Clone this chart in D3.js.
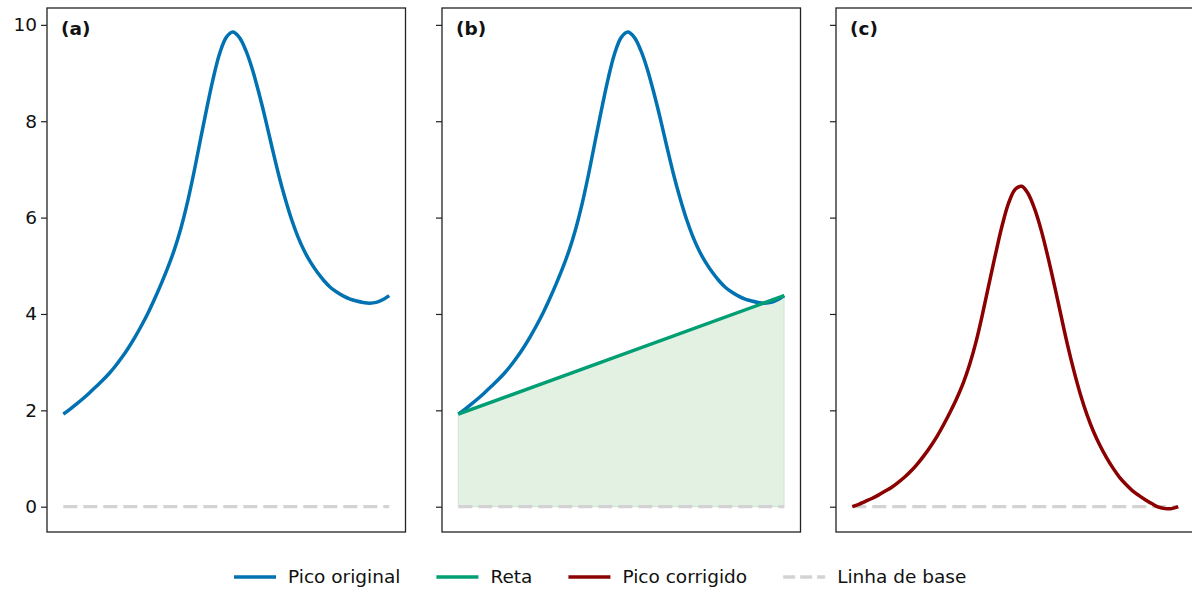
<!DOCTYPE html>
<html>
<head>
<meta charset="utf-8">
<script src="https://cdn.jsdelivr.net/npm/d3@7"></script>
<style>
  html, body { margin: 0; padding: 0; background: #fff; }
  svg { display: block; font-family: "DejaVu Sans", sans-serif; }
</style>
</head>
<body>
<svg id="chart" width="1192" height="589"></svg>
<script>
// Sample positions along the spectrum (arbitrary units)
const xPos = [0, 2, 4, 6, 8, 10, 12, 14, 16, 18, 20, 22, 24, 26, 28, 30, 32, 34, 36, 38, 40, 42, 44, 46, 48, 50,
              52, 54, 56, 58, 60, 62, 64, 66, 68, 70, 72, 74, 76, 78, 80, 82, 84, 86, 88, 90, 92, 94, 96, 98, 100];
// Original peak, still sitting on the sloped background
const picoOriginal = [1.92, 2.02, 2.13, 2.24, 2.36, 2.49, 2.62, 2.76, 2.92, 3.10, 3.30, 3.52, 3.76, 4.02, 4.31, 4.62,
                      4.95, 5.32, 5.76, 6.29, 6.91, 7.59, 8.26, 8.89, 9.41, 9.74,
                      9.85, 9.74, 9.47, 9.08, 8.59, 8.05, 7.47, 6.91, 6.41, 5.97, 5.60, 5.30, 5.06, 4.86, 4.69,
                      4.55, 4.45, 4.37, 4.31, 4.27, 4.24, 4.225, 4.24, 4.295, 4.38];
// Peak after subtracting the straight line
const picoCorrigido = [0.00, 0.05, 0.11, 0.17, 0.24, 0.32, 0.40, 0.50, 0.61, 0.74, 0.89, 1.06, 1.25, 1.46, 1.70, 1.96,
                       2.24, 2.56, 2.95, 3.43, 4.01, 4.64, 5.26, 5.84, 6.31, 6.59,
                       6.65, 6.49, 6.17, 5.73, 5.19, 4.60, 3.98, 3.37, 2.82, 2.33, 1.91, 1.56, 1.27, 1.02, 0.80,
                       0.61, 0.46, 0.33, 0.23, 0.14, 0.06, -0.01, -0.04, -0.04, 0.00];
// Straight line joining the two ends of the original peak
const retaX = [0, 100];
const retaY = [1.92, 4.38];
// Zero baseline
const baseX = [0, 100];
const baseY = [0, 0];

const yTicks = [0, 2, 4, 6, 8, 10];
const panelLabels = ["(a)", "(b)", "(c)"];
const legendLabels = ["Pico original", "Reta", "Pico corrigido", "Linha de base"];

const colors = {
  original: "#0072B2",
  reta: "#009E73",
  corrigido: "#8B0000",
  base: "#D3D3D3",
  fill: "rgba(0,128,0,0.11)"
};

const svg = d3.select("#chart");

const panelLeft = [47, 442, 836];
const panelW = 358.5;
const plotTop = 8, plotBottom = 532;
const lw = 3.5;

const x = d3.scaleLinear().domain([-5, 105]).range([0, panelW]);
const y = d3.scaleLinear().domain([-0.525, 10.35]).range([plotBottom, plotTop]);

const zip = (xs, ys) => xs.map((v, i) => [v, ys[i]]);
const line = d3.line().x(d => x(d[0])).y(d => y(d[1])).curve(d3.curveCatmullRom.alpha(0.5));
const straight = d3.line().x(d => x(d[0])).y(d => y(d[1]));

const defs = svg.append("defs");

panelLeft.forEach((left, i) => {
  defs.append("clipPath").attr("id", "clip" + i)
    .append("rect").attr("x", 0).attr("y", plotTop).attr("width", panelW).attr("height", plotBottom - plotTop);

  const g = svg.append("g").attr("transform", `translate(${left},0)`);
  const plot = g.append("g").attr("clip-path", `url(#clip${i})`);

  if (i === 1) {
    const area = d3.area().x(d => x(d[0])).y0(y(0)).y1(d => y(d[1]));
    plot.append("path")
      .datum(zip(retaX, retaY))
      .attr("d", area)
      .attr("fill", colors.fill)
      .attr("stroke", colors.fill)
      .attr("stroke-width", 1.2);
  }

  // dashed zero baseline
  plot.append("path")
    .datum(zip(baseX, baseY))
    .attr("d", straight)
    .attr("fill", "none")
    .attr("stroke", colors.base)
    .attr("stroke-width", 3.2)
    .attr("stroke-dasharray", "14,6");

  if (i === 0 || i === 1) {
    plot.append("path")
      .datum(zip(xPos, picoOriginal))
      .attr("d", line)
      .attr("fill", "none")
      .attr("stroke", colors.original)
      .attr("stroke-width", lw)
      .attr("stroke-linejoin", "round");
  }
  if (i === 1) {
    plot.append("path")
      .datum(zip(retaX, retaY))
      .attr("d", straight)
      .attr("fill", "none")
      .attr("stroke", colors.reta)
      .attr("stroke-width", lw);
  }
  if (i === 2) {
    plot.append("path")
      .datum(zip(xPos, picoCorrigido))
      .attr("d", line)
      .attr("fill", "none")
      .attr("stroke", colors.corrigido)
      .attr("stroke-width", lw)
      .attr("stroke-linejoin", "round");
  }

  // y axis (labels on the first panel only)
  const axis = d3.axisLeft(y).tickValues(yTicks).tickSize(6).tickPadding(4)
    .tickFormat(i === 0 ? d3.format("d") : () => "");
  const ax = g.append("g").call(axis);
  ax.select(".domain").remove();
  ax.selectAll(".tick line").attr("stroke", "#222").attr("stroke-width", 1.2);
  ax.selectAll(".tick text").attr("font-size", 18.5).attr("fill", "#111")
    .attr("font-family", "DejaVu Sans, sans-serif");

  // frame
  g.append("rect")
    .attr("x", 0).attr("y", plotTop)
    .attr("width", panelW).attr("height", plotBottom - plotTop)
    .attr("fill", "none").attr("stroke", "#222").attr("stroke-width", 1.3);

  g.append("text")
    .attr("x", 14).attr("y", 35)
    .attr("font-size", 18.5).attr("font-weight", "bold").attr("fill", "#111")
    .text(panelLabels[i]);
});

// legend
const legendItems = [
  { label: legendLabels[0], color: colors.original, dash: null },
  { label: legendLabels[1], color: colors.reta, dash: null },
  { label: legendLabels[2], color: colors.corrigido, dash: null },
  { label: legendLabels[3], color: colors.base, dash: "12,5" }
];
const legend = svg.append("g").attr("transform", "translate(0,577)");
let cx = 234;
legendItems.forEach(item => {
  legend.append("line")
    .attr("x1", cx).attr("x2", cx + 42).attr("y1", 0).attr("y2", 0)
    .attr("stroke", item.color).attr("stroke-width", lw)
    .attr("stroke-dasharray", item.dash);
  const t = legend.append("text")
    .attr("x", cx + 54).attr("y", 0).attr("dy", "0.35em")
    .attr("font-size", 18.5).attr("fill", "#111")
    .text(item.label);
  cx += 54 + t.node().getComputedTextLength() + 36;
});
</script>
</body>
</html>
